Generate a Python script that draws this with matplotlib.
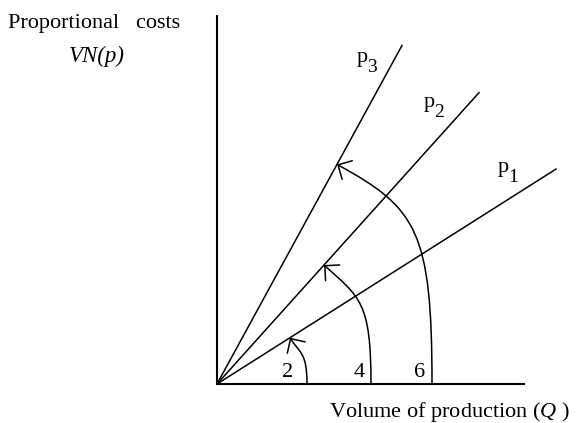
import numpy as np
import matplotlib
matplotlib.use("Agg")
import matplotlib.pyplot as plt
from matplotlib.patches import FancyArrowPatch
from matplotlib.path import Path

plt.rcParams['font.family'] = ['Liberation Serif', 'DejaVu Serif']
plt.rcParams['mathtext.fontset'] = 'custom'
plt.rcParams['mathtext.rm'] = 'Liberation Serif'
plt.rcParams['mathtext.it'] = 'Liberation Serif:italic'

# price lines through the origin (cost = slope * Q), schematic units
price_index = ['1', '2', '3']
price_slopes = [0.634, 1.112, 1.830]
price_end_q = [339, 262, 185]

# rotation arcs: from a point on the Q axis up to one of the price lines
arc_labels = ['2', '4', '6']
arc_start_q = [90, 154, 215]
arc_end_q = [73, 107, 120]
arc_line = [0, 1, 2]

fig = plt.figure(figsize=(5.81, 4.23), dpi=100)
ax = fig.add_axes([0, 0, 1, 1])
ax.set_xlim(-217, 364)
ax.set_ylim(-39, 384)
ax.axis('off')

# axes
ax.plot([0, 0], [0, 369], color='black', lw=1.5, solid_capstyle='butt')
ax.plot([0, 308], [0, 0], color='black', lw=1.5, solid_capstyle='butt')

# price lines
for slope, qend in zip(price_slopes, price_end_q):
    q = np.array([0, qend])
    ax.plot(q, slope * q, color='black', lw=1.1)

# p labels with a large, low subscript
label_pos = [(281, 212), (207, 277), (140, 322)]
for idx, (x, y) in zip(price_index, label_pos):
    ax.text(x, y, 'p', fontsize=16, ha='left', va='baseline')
    ax.text(x + 10.5, y - 10, idx, fontsize=14, ha='left', va='baseline')


def arc_path(q0, q1, slope):
    p0 = np.array([q0, 0.0])
    p3 = np.array([q1, slope * q1])
    chord = np.hypot(*(p3 - p0))
    ang = np.arctan(slope) + np.pi / 2
    p1 = np.array([q0, 0.64 * chord])
    p2 = p3 - 0.38 * chord * np.array([np.cos(ang), np.sin(ang)])
    return Path([p0, p1, p2, p3],
                [Path.MOVETO, Path.CURVE4, Path.CURVE4, Path.CURVE4])


for q0, q1, li in zip(arc_start_q, arc_end_q, arc_line):
    arr = FancyArrowPatch(path=arc_path(q0, q1, price_slopes[li]),
                          arrowstyle='->,head_length=0.76,head_width=0.76',
                          mutation_scale=10, color='black', lw=1.1)
    ax.add_patch(arr)

for lab, x in zip(arc_labels, [71, 142, 203]):
    ax.text(x, 7, lab, fontsize=16, ha='center', va='baseline')

ax.text(-209, 356, 'Proportional   costs', fontsize=16, ha='left', va='baseline')
ax.text(-120, 322, 'VN(p)', fontsize=16.5, style='italic', ha='center', va='baseline')
ax.text(112, -33, r'Volume of production ($\mathit{Q}$ )', fontsize=16,
        ha='left', va='baseline')

fig.savefig('out.png', dpi=100)
